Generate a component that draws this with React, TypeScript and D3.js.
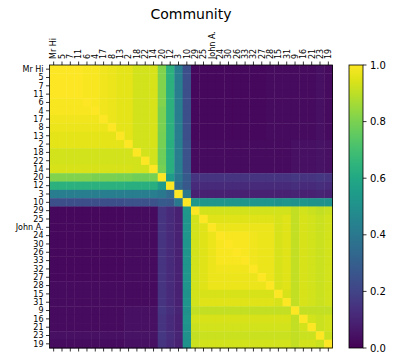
import React from "react";
import * as d3 from "d3";

// node order as drawn on both axes
const labels = [
  "Mr Hi", "5", "7", "11", "6", "4", "17", "8", "13", "2", "18", "22", "14",
  "20", "12", "3", "10",
  "29", "25", "John A.", "24", "30", "26", "33", "32", "27", "28", "15", "31", "9", "16", "21", "23", "19",
];

// similarity in percent, one row per node (same order as labels)
const rowsA = [
  [100,100,100,100,99,99,98,97,96,96,93,93,94, 81,64,42,24, 2,2,2,2,2,2,2,2,2,3,3,3,3,3,3,4,3],
  [100,100,100,100,99,99,98,97,96,96,93,93,94, 81,64,42,24, 2,2,2,2,2,2,2,2,2,3,3,3,3,3,3,4,3],
  [100,100,100,100,99,99,98,97,96,96,93,93,94, 81,64,42,24, 2,2,2,2,2,2,2,2,2,3,3,3,3,3,3,4,3],
  [100,100,100,100,99,99,98,97,96,96,93,93,94, 81,64,42,24, 2,2,2,2,2,2,2,2,2,3,3,3,3,3,3,4,3],
  [99,99,99,99,100,99,98,97,96,96,93,93,94, 81,64,42,24, 2,2,2,2,2,2,2,2,2,3,3,3,3,3,3,4,3],
  [99,99,99,99,99,100,98,97,96,96,93,93,94, 80,64,42,24, 2,2,2,2,2,2,2,2,2,3,3,3,3,3,3,4,3],
  [98,98,98,98,98,98,100,97,96,96,93,93,94, 80,64,42,24, 2,2,2,2,2,2,2,2,2,3,3,3,3,3,3,4,3],
  [97,97,97,97,97,97,97,100,96,96,93,93,94, 80,64,42,24, 2,2,2,2,2,2,2,2,2,3,3,3,3,3,3,4,3],
  [96,96,96,96,96,96,96,96,100,96,93,93,94, 79,64,42,24, 2,2,2,2,2,2,2,2,2,3,3,3,3,3,3,4,3],
  [96,96,96,96,96,96,96,96,96,100,93,93,94, 79,63,42,25, 3,3,3,3,3,3,3,3,3,3,3,3,4,4,4,5,4],
  [93,93,93,93,93,93,93,93,93,93,100,93,93, 78,63,42,25, 3,3,3,3,3,3,3,3,3,3,3,3,4,4,4,5,4],
  [93,93,93,93,93,93,93,93,93,93,93,100,93, 78,63,42,25, 3,3,3,3,3,3,3,3,3,3,3,3,4,4,4,5,4],
  [94,94,94,94,94,94,94,94,94,94,93,93,100, 79,63,42,25, 3,3,3,3,3,3,3,3,3,3,3,3,4,4,4,5,4],
];

const rowsBridge = [
  [81,81,81,81,81,80,80,80,79,79,78,78,79, 100,55,40,28, 15,15,15,15,15,15,15,15,15,15,15,15,16,15,15,16,15],
  [64,64,64,64,64,64,64,64,64,63,63,63,63, 55,100,35,27, 12,12,12,12,12,12,12,12,12,12,12,12,13,12,12,13,12],
  [42,42,42,42,42,42,42,42,42,42,42,42,42, 40,35,100,40, 9,9,9,9,9,9,9,9,9,9,9,9,10,9,9,10,9],
  [24,24,24,24,24,24,24,24,24,25,25,25,25, 28,27,40,100, 53,52,52,52,52,52,52,52,52,52,51,52,50,52,51,50,51],
];

const rowsB = [
  [2,2,2,2,2,2,2,2,2,3,3,3,3, 15,12,9,53, 100,93,93,93,93,93,93,93,93,93,93,93,91,93,92,91,92],
  [2,2,2,2,2,2,2,2,2,3,3,3,3, 15,12,9,52, 93,100,95,95,95,95,95,95,95,95,94,95,91,94,93,92,93],
  [2,2,2,2,2,2,2,2,2,3,3,3,3, 15,12,9,52, 93,95,100,97,97,97,97,97,97,97,94,95,91,94,93,92,93],
  [2,2,2,2,2,2,2,2,2,3,3,3,3, 15,12,9,52, 93,95,97,100,99,99,99,98,97,97,94,95,91,94,93,92,93],
  [2,2,2,2,2,2,2,2,2,3,3,3,3, 15,12,9,52, 93,95,97,99,100,99,99,98,97,97,94,95,91,94,93,92,93],
  [2,2,2,2,2,2,2,2,2,3,3,3,3, 15,12,9,52, 93,95,97,99,99,100,99,98,97,97,94,95,91,94,93,92,93],
  [2,2,2,2,2,2,2,2,2,3,3,3,3, 15,12,9,52, 93,95,97,99,99,99,100,98,97,97,94,95,91,94,93,92,93],
  [2,2,2,2,2,2,2,2,2,3,3,3,3, 15,12,9,52, 93,95,97,98,98,98,98,100,97,97,94,95,91,94,93,92,93],
  [2,2,2,2,2,2,2,2,2,3,3,3,3, 15,12,9,52, 93,95,97,97,97,97,97,97,100,97,94,95,91,94,93,92,93],
  [3,3,3,3,3,3,3,3,3,3,3,3,3, 15,12,9,52, 93,95,97,97,97,97,97,97,97,100,94,95,91,94,93,92,93],
  [3,3,3,3,3,3,3,3,3,3,3,3,3, 15,12,9,51, 93,94,94,94,94,94,94,94,94,94,100,94,91,94,93,92,93],
  [3,3,3,3,3,3,3,3,3,3,3,3,3, 15,12,9,52, 93,95,95,95,95,95,95,95,95,95,94,100,91,94,93,92,93],
  [3,3,3,3,3,3,3,3,3,4,4,4,4, 16,13,10,50, 91,91,91,91,91,91,91,91,91,91,91,91,100,91,91,91,91],
  [3,3,3,3,3,3,3,3,3,4,4,4,4, 15,12,9,52, 93,94,94,94,94,94,94,94,94,94,94,94,91,100,93,92,93],
  [3,3,3,3,3,3,3,3,3,4,4,4,4, 15,12,9,51, 92,93,93,93,93,93,93,93,93,93,93,93,91,93,100,92,93],
  [4,4,4,4,4,4,4,4,4,5,5,5,5, 16,13,10,50, 91,92,92,92,92,92,92,92,92,92,92,92,91,92,92,100,92],
  [3,3,3,3,3,3,3,3,3,4,4,4,4, 15,12,9,51, 92,93,93,93,93,93,93,93,93,93,93,93,91,93,93,92,100],
];

const colorTicks = [0, 0.2, 0.4, 0.6, 0.8, 1.0];
const title = "Community";

const W = 399, H = 364;
const plot = { left: 49.5, right: 332.5, top: 65, bottom: 348 };
const bar = { left: 349, right: 363 };
const font = "DejaVu Sans, sans-serif";

export default function App() {
  const matrix = [...rowsA, ...rowsBridge, ...rowsB];
  const x = d3.scaleBand<string>().domain(labels).range([plot.left, plot.right]);
  const y = d3.scaleBand<string>().domain(labels).range([plot.top, plot.bottom]);
  const color = (v: number) => d3.interpolateViridis(v);
  const cy = d3.scaleLinear().domain([0, 1]).range([plot.bottom, plot.top]);
  const stops = d3.range(0, 1.0001, 0.05);

  return (
    <svg width={W} height={H} style={{ position: "absolute", left: 0, top: 0, background: "#fff" }}>
      <defs>
        <linearGradient id="viridis" x1="0" y1="1" x2="0" y2="0">
          {stops.map((s) => (
            <stop key={s} offset={s} stopColor={color(s)} />
          ))}
        </linearGradient>
      </defs>
      <text x={(plot.left + plot.right) / 2} y={19} textAnchor="middle" fontFamily={font} fontSize={14}>
        {title}
      </text>

      {matrix.map((row, i) =>
        row.map((v, j) => (
          <rect
            key={`${i}-${j}`}
            x={x(labels[j])!}
            y={y(labels[i])!}
            width={x.bandwidth() + 0.4}
            height={y.bandwidth() + 0.4}
            fill={color(v / 100)}
          />
        ))
      )}
      <rect
        x={plot.left}
        y={plot.top}
        width={plot.right - plot.left}
        height={plot.bottom - plot.top}
        fill="none"
        stroke="#000"
        strokeWidth={0.8}
      />

      {labels.map((l) => {
        const cx = x(l)! + x.bandwidth() / 2;
        const ry = y(l)! + y.bandwidth() / 2;
        return (
          <g key={l} fontFamily={font} fontSize={8}>
            <line x1={plot.left - 3.5} x2={plot.left} y1={ry} y2={ry} stroke="#000" strokeWidth={0.8} />
            <text x={plot.left - 6} y={ry} dy="0.35em" textAnchor="end">
              {l}
            </text>
            <line x1={cx} x2={cx} y1={plot.top - 3.5} y2={plot.top} stroke="#000" strokeWidth={0.8} />
            <line x1={cx} x2={cx} y1={plot.bottom} y2={plot.bottom + 3.5} stroke="#000" strokeWidth={0.8} />
            <text
              transform={`translate(${cx},${plot.top - 6}) rotate(-90)`}
              dy="0.35em"
              textAnchor="start"
            >
              {l}
            </text>
          </g>
        );
      })}

      <rect
        x={bar.left}
        y={plot.top}
        width={bar.right - bar.left}
        height={plot.bottom - plot.top}
        fill="url(#viridis)"
        stroke="#000"
        strokeWidth={0.8}
      />
      {colorTicks.map((t) => (
        <g key={t} fontFamily={font} fontSize={10}>
          <line x1={bar.right} x2={bar.right + 3.5} y1={cy(t)} y2={cy(t)} stroke="#000" strokeWidth={0.8} />
          <text x={bar.right + 7} y={cy(t)} dy="0.35em">
            {t.toFixed(1)}
          </text>
        </g>
      ))}
    </svg>
  );
}
